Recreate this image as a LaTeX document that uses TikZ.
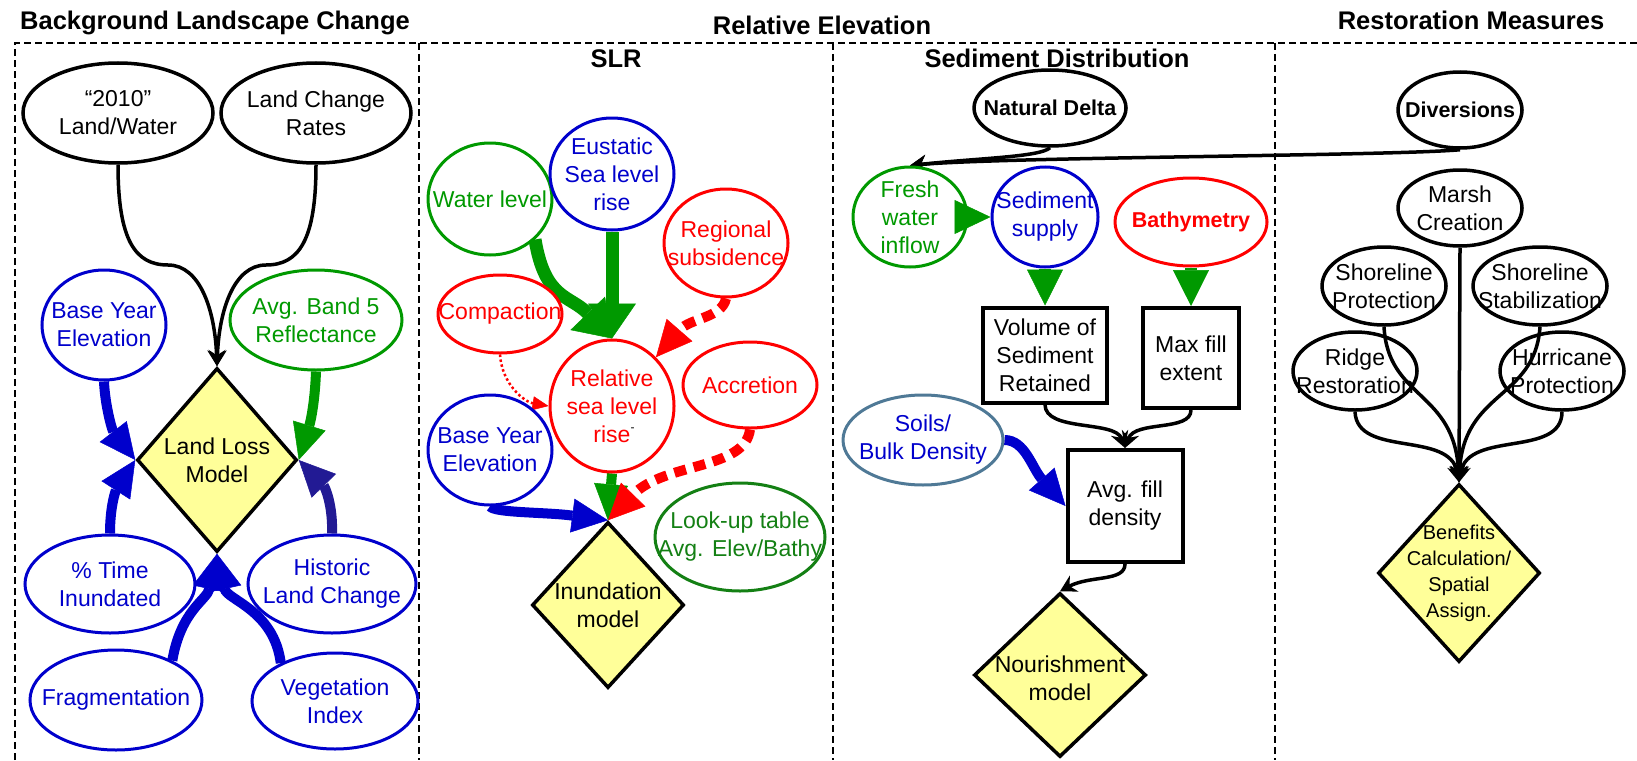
\documentclass[tikz,border=0pt]{standalone}
\usepackage{fontspec}
\setmainfont{Liberation Sans}
\usetikzlibrary{shapes.geometric,arrows.meta}
\definecolor{cblue}{RGB}{0,0,204}
\definecolor{cgreen}{RGB}{0,153,0}
\definecolor{cdkgreen}{RGB}{20,128,20}
\definecolor{cred}{RGB}{255,0,0}
\definecolor{cnavy}{RGB}{34,26,148}
\definecolor{cslate}{RGB}{79,121,150}
\definecolor{cyel}{RGB}{255,255,153}
\pgfdeclarelayer{bg}
\pgfsetlayers{bg,main}
\begin{document}
\begin{tikzpicture}[x=1pt,y=-1pt,
  ell/.style={ellipse,draw,line width=3pt,fill=white,inner sep=0pt},
  bell/.style={ellipse,draw,line width=3.5pt,fill=white,inner sep=0pt},
  tx/.style={align=center,inner sep=0pt,font=\fontsize{23}{28}\selectfont},
  btx/.style={align=center,inner sep=0pt,font=\fontsize{21.5}{26}\selectfont\bfseries},
  stx/.style={align=center,inner sep=0pt,font=\fontsize{20}{26}\selectfont},
  hd/.style={anchor=base,inner sep=0pt,font=\fontsize{25.5}{30}\selectfont\bfseries},
  dia/.style={diamond,draw,line width=3.5pt,fill=cyel,inner sep=0pt},
  box/.style={rectangle,draw,line width=4pt,fill=white,inner sep=0pt,align=center,font=\fontsize{23}{28}\selectfont},
  blk/.style={line width=3.5pt,-{Stealth[length=16pt,width=18pt]}},
  fat/.style={line width=10pt,-{Triangle[length=36pt,width=34pt,line width=0.5pt]}},
  fatg/.style={line width=13pt,cgreen,-{Triangle[length=35pt,width=48pt,line width=0.5pt]}},
  reddash/.style={fat,cred,dash pattern=on 12pt off 8pt},
  frame/.style={line width=1.6pt,dash pattern=on 7pt off 4pt}
]
\useasboundingbox (0,0) rectangle (1637,760);

% headings
\node[hd] (h1) at (215,30) {Background Landscape Change};
\node[hd] (h2) at (822,35) {Relative Elevation};
\node[hd] (h3) at (1471,30) {Restoration Measures};
\node[hd] (h4) at (616,67) {SLR};
\node[hd] (h5) at (1057,67) {Sediment Distribution};

% ---------- Background Landscape Change ----------
\node[bell,minimum width=190pt,minimum height=100pt] (LW) at (118,113) {};
\node[tx] (LWt) at (LW) {“2010”\\Land/Water};
\node[bell,minimum width=190pt,minimum height=100pt] (LCR) at (316,113) {};
\node[tx] (LCRt) at (LCR) {Land Change\\Rates};
\node[ell,draw=cblue,minimum width=124pt,minimum height=110pt] (BYE1) at (104,325) {};
\node[tx,text=cblue] (BYE1t) at (BYE1) {Base Year\\Elevation};
\node[ell,draw=cgreen,minimum width=172pt,minimum height=100pt] (AB5) at (316,320) {};
\node[tx,text=cgreen] (AB5t) at (AB5) {Avg. Band 5\\Reflectance};
\node[dia,minimum width=160pt,minimum height=184pt] (LLM) at (217,460) {};
\node[tx] (LLMt) at (LLM) {Land Loss\\Model};
\node[ell,draw=cblue,minimum width=170pt,minimum height=98pt] (PTI) at (110,584) {};
\node[tx,text=cblue] (PTIt) at (PTI) {\% Time\\Inundated};
\node[ell,draw=cblue,minimum width=168pt,minimum height=98pt] (HLC) at (332,584) {};
\node[tx,text=cblue] (HLCt) at (HLC) {Historic\\Land Change};
\node[ell,draw=cblue,minimum width=172pt,minimum height=100pt] (FRAG) at (116,700) {};
\node[tx,text=cblue] (FRAGt) at (FRAG) {Fragmentation};
\node[ell,draw=cblue,minimum width=166pt,minimum height=96pt] (VEG) at (335,701) {};
\node[tx,text=cblue] (VEGt) at (VEG) {Vegetation\\Index};

% ---------- SLR ----------
\node[ell,draw=cgreen,minimum width=124pt,minimum height=112pt] (WL) at (490,199) {};
\node[tx,text=cgreen] (WLt) at (WL) {Water level};
\node[ell,draw=cblue,minimum width=124pt,minimum height=112pt] (ESL) at (612,174) {};
\node[tx,text=cblue] (ESLt) at (ESL) {Eustatic\\Sea level\\rise};
\node[ell,draw=cred,minimum width=124pt,minimum height=108pt] (RS) at (726,243) {};
\node[tx,text=cred] (RSt) at (RS) {Regional\\subsidence};
\node[ell,draw=cred,minimum width=124pt,minimum height=78pt] (COMP) at (500,314) {};
\node[tx,text=cred] (COMPt) at (COMP) {Compaction};
\node[ell,draw=cred,minimum width=124pt,minimum height=132pt] (RSLR) at (612,406) {};
\node[tx,text=cred] (RSLRt) at (RSLR) {Relative\\sea level\\rise\rlap{\raisebox{0.45em}{\color{black}\fontsize{12}{12}\selectfont -}}};
\node[ell,draw=cred,minimum width=134pt,minimum height=86pt] (ACC) at (750,385) {};
\node[tx,text=cred] (ACCt) at (ACC) {Accretion};
\node[ell,draw=cblue,minimum width=124pt,minimum height=110pt] (BYE2) at (490,450) {};
\node[tx,text=cblue] (BYE2t) at (BYE2) {Base Year\\Elevation};
\node[ell,draw=cdkgreen,minimum width=170pt,minimum height=108pt] (LUT) at (740,537) {};
\node[tx,text=cdkgreen] (LUTt) at (LUT) {Look-up table\\Avg. Elev/Bathy};
\node[dia,minimum width=152pt,minimum height=166pt] (IM) at (608,605) {};
\node[tx] (IMt) at (IM) {Inundation\\model};

% ---------- Sediment Distribution ----------
\node[bell,minimum width=152pt,minimum height=76pt] (ND) at (1050,108) {};
\node[btx] (NDt) at (ND) {Natural Delta};
\node[bell,minimum width=124pt,minimum height=76pt] (DIV) at (1460,110) {};
\node[btx] (DIVt) at (DIV) {Diversions};
\node[ell,draw=cgreen,minimum width=114pt,minimum height=100pt] (FWI) at (910,217) {};
\node[tx,text=cgreen] (FWIt) at (FWI) {Fresh\\water\\inflow};
\node[ell,draw=cblue,minimum width=106pt,minimum height=100pt] (SS) at (1045,217) {};
\node[tx,text=cblue] (SSt) at (SS) {Sediment\\supply};
\node[ell,draw=cred,minimum width=152pt,minimum height=88pt] (BAT) at (1191,222) {};
\node[btx,text=cred] (BATt) at (BAT) {Bathymetry};
\node[box,minimum width=124pt,minimum height=95pt] (VSR) at (1045,355) {Volume of\\Sediment\\Retained};
\node[box,minimum width=96pt,minimum height=100pt] (MFE) at (1191,358) {Max fill\\extent};
\node[box,minimum width=115pt,minimum height=112pt] (AFD) at (1125,506) {Avg. fill\\density};
\node[ell,draw=cslate,minimum width=160pt,minimum height=90pt] (SBD) at (923,440) {};
\node[tx,text=cblue] (SBDt) at (SBD) {Soils/\\Bulk Density};
\node[dia,minimum width=172pt,minimum height=164pt] (NM) at (1060,675) {};
\node[tx] (NMt) at (1060,678) {Nourishment\\model};

% ---------- Restoration Measures ----------
\node[bell,fill=none,minimum width=124pt,minimum height=76pt] (MC) at (1460,208) {};
\node[tx] (MCt) at (MC) {Marsh\\Creation};
\node[bell,fill=none,minimum width=124pt,minimum height=78pt] (SP) at (1384,286) {};
\node[tx] (SPt) at (SP) {Shoreline\\Protection};
\node[bell,fill=none,minimum width=134pt,minimum height=78pt] (SS2) at (1540,286) {};
\node[tx] (SS2t) at (SS2) {Shoreline\\Stabilization};
\node[bell,fill=none,minimum width=124pt,minimum height=78pt] (RR) at (1355,371) {};
\node[tx] (RRt) at (RR) {Ridge\\Restoration};
\node[bell,fill=none,minimum width=124pt,minimum height=78pt] (HP) at (1562,371) {};
\node[tx] (HPt) at (HP) {Hurricane\\Protection};
\node[dia,minimum width=162pt,minimum height=178pt] (BEN) at (1459,573) {};
\node[stx] (BENt) at (BEN) {Benefits\\Calculation/\\Spatial\\Assign.};

% ---------- background: frame and connectors ----------
\begin{pgfonlayer}{bg}
\draw[frame] (15,760) -- (15,43) -- (1637,43);
\draw[frame] (419,43) -- (419,760);
\draw[frame] (833,43) -- (833,760);
\draw[frame] (1275,43) -- (1275,760);

\draw[blk] (LW.south) .. controls (118,240) and (135,265) .. (168,265) .. controls (200,265) and (215,310) .. (LLM.north);
\draw[blk] (LCR.south) .. controls (316,240) and (299,265) .. (266,265) .. controls (234,265) and (219,310) .. (LLM.north);
\draw[fat,cblue] (BYE1.south) .. controls (105,405) and (112,430) .. (LLM.west);
\draw[fat,cgreen] (AB5.south) .. controls (315,400) and (311,420) .. (LLM.east);
\draw[fat,cblue] (PTI.north) .. controls (110,505) and (116,490) .. (LLM.west);
\draw[fat,cnavy] (HLC.north) .. controls (333,505) and (325,487) .. (LLM.east);
\draw[fat,cblue] (FRAG.35) .. controls (181,610) and (207,600) .. (LLM.south);
\draw[fat,cblue] (VEG.145) .. controls (274,610) and (227,600) .. (LLM.south);

\draw[fatg] (WL.-42) .. controls (545,300) and (570,295) .. (RSLR.north);
\draw[fatg] (ESL.south) -- (RSLR.north);
\draw[reddash] (RS.south) .. controls (722,318) and (690,318) .. (RSLR.48);
\draw[cred,line width=2.5pt,dash pattern=on 2.5pt off 2.5pt,-{Triangle[length=16pt,width=14pt,line width=0.5pt]}] (COMP.south) .. controls (502,385) and (525,402) .. (RSLR.west);
\draw[fat,cblue] (BYE2.south) .. controls (495,513) and (545,512) .. (IM.north);
\draw[fat,cgreen] (RSLR.south) -- (IM.north);
\draw[reddash] (ACC.south) .. controls (745,470) and (665,462) .. (IM.north);

\draw[blk] (DIV.south) .. controls (1390,156) and (1000,157) .. (FWI.north);
\draw[blk] (ND.south) .. controls (1040,157) and (980,158) .. (FWI.north);
\draw[blk] (VSR.south) .. controls (1045,432) and (1115,420) .. (AFD.north);
\draw[blk] (MFE.south) .. controls (1191,432) and (1135,420) .. (AFD.north);
\draw[fat,cblue] (SBD.east) .. controls (1025,440) and (1032,468) .. (AFD.west);
\draw[blk] (AFD.south) .. controls (1125,582) and (1090,575) .. (NM.north);
\end{pgfonlayer}

% ---------- connectors on top ----------
\draw[cgreen,line width=1pt,-{Triangle[length=36pt,width=34pt,line width=0.5pt]}] (FWI.east) -- (SS.west);
\draw[cgreen,line width=12pt,-{Triangle[length=36pt,width=36pt,line width=0.5pt]}] (SS.south) -- (VSR.north);
\draw[cgreen,line width=12pt,-{Triangle[length=36pt,width=36pt,line width=0.5pt]}] (BAT.south) -- (MFE.north);

\draw[blk] (MC.south) -- (BEN.north);
\draw[blk] (SP.south) .. controls (1388,400) and (1455,390) .. (BEN.north);
\draw[blk] (SS2.south) .. controls (1535,400) and (1463,390) .. (BEN.north);
\draw[blk] (RR.south) .. controls (1357,458) and (1450,430) .. (BEN.north);
\draw[blk] (HP.south) .. controls (1562,458) and (1468,430) .. (BEN.north);
\end{tikzpicture}
\end{document}
